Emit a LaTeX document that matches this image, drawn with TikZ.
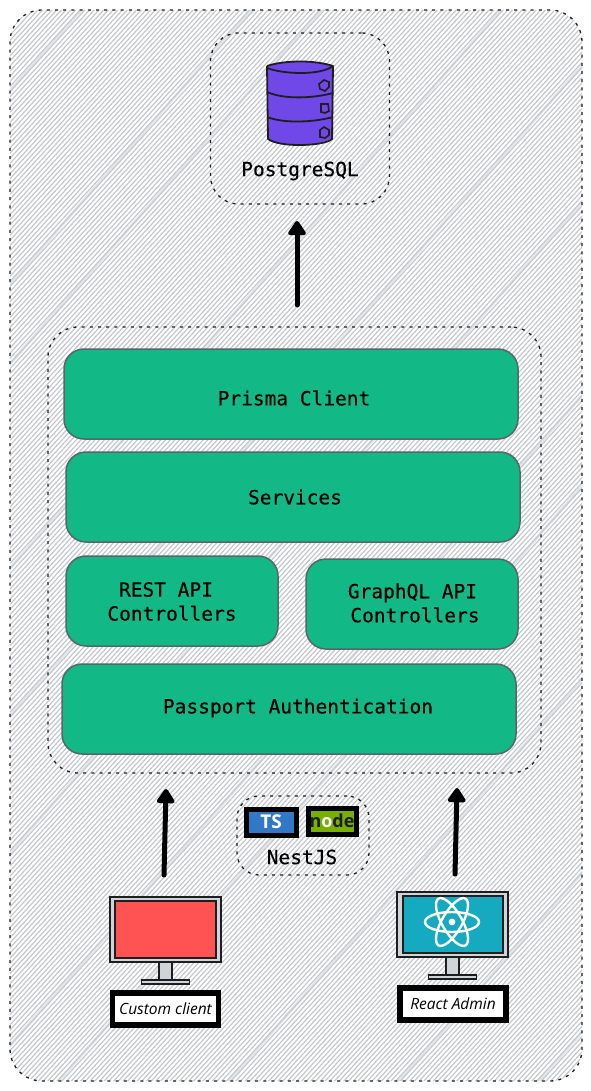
\documentclass[tikz,border=0pt]{standalone}
\usepackage{fontspec}
\setmainfont{Open Sans}
\newfontfamily\codefont[FakeBold=0.35]{DejaVu Sans Mono}
\newfontfamily\handfont{Open Sans}
\usetikzlibrary{arrows.meta,calc}
\definecolor{greenfill}{HTML}{12B886}
\definecolor{greenline}{HTML}{56666A}
\definecolor{hatch}{HTML}{C4C8CC}
\definecolor{hatchb}{HTML}{E4E6E9}
\definecolor{ink}{HTML}{1E1E1E}
\definecolor{dbfill}{HTML}{7048E8}
\definecolor{bezel}{HTML}{CED4DA}
\definecolor{redscreen}{HTML}{FF5252}
\definecolor{tealscreen}{HTML}{15AABF}
\definecolor{tsblue}{HTML}{3178C6}
\definecolor{nodegreen}{HTML}{76B000}
\tikzset{
  dotbox/.style={draw=ink,line width=1.3pt,dash pattern=on 3pt off 5.2pt,rounded corners=#1},
  greenbox/.style={draw=greenline,line width=1.5pt,fill=greenfill,rounded corners=20pt,inner sep=0pt},
  codetext/.style={font=\codefont\fontsize{19.5}{24}\selectfont,text=black,inner sep=0pt,align=center},
  bigarrow/.style={draw=black,line width=5pt,line cap=round,line join=round,-{Triangle[length=16pt,width=20pt,round]}},
  bezelbox/.style={draw=ink,line width=1.1pt,fill=bezel},
  screenbox/.style={draw=ink,line width=1.2pt},
  tagbox/.style={draw=black,line width=5.5pt,fill=white,font=\handfont\itshape\fontsize{15.5}{18}\selectfont,text=black,inner sep=0pt},
  logobox/.style={draw=black,line width=5pt,inner sep=0pt},
  atomring/.style={draw=white,line width=2.4pt},
  dbline/.style={draw=ink,line width=1.8pt,line join=round},
}
\begin{document}
\begin{tikzpicture}[x=1pt,y=-1pt]
\useasboundingbox (0,0) rectangle (590,1091);
\fill[white] (0,0) rectangle (590,1091);
% hatched background
\begin{scope}
  \clip[rounded corners=32pt] (10,10) rectangle (582,1081);
  \foreach \k in {90,260,330,510,640,760,930,1010,1180,1350,1490,1640}{
    \draw[hatchb,line width=3pt] (\k,0) -- (\k-960,1091);
  }
  \foreach \k in {0,4.7,...,1800}{
    \draw[hatch,line width=1.15pt] (\k,0) -- (\k-1000,1091);
  }
\end{scope}
\node[dotbox=32pt,minimum width=572pt,minimum height=1071pt,inner sep=0pt] (outer) at (296,545.5) {};
% PostgreSQL group
\node[dotbox=28pt,minimum width=179pt,minimum height=171pt,inner sep=0pt] (pggroup) at (300,118.5) {};
% database drum
\fill[dbfill] (267,66) .. controls (285,60) and (315,60) .. (333,66) -- (333,137)
  .. controls (325,146) and (280,148) .. (268,139) -- cycle;
\draw[dbline] (267,66) .. controls (285,60) and (315,60) .. (333,66) .. controls (320,76) and (282,74) .. (267,68);
\draw[dbline] (267,66) -- (268,139) .. controls (280,148) and (325,146) .. (332,139) -- (333,66);
\draw[dbline] (267,92) .. controls (285,100) and (315,98) .. (333,93);
\draw[dbline] (267,117) .. controls (285,124) and (315,122) .. (333,117);
\draw[ink,line width=1.6pt] (324,80) -- (329,82) -- (329,87) -- (325,91) -- (320,89) -- (319,84) -- cycle;
\draw[ink,line width=1.6pt] (321,104) -- (328,104) -- (329,111) -- (325,113) -- (321,112) -- cycle;
\draw[ink,line width=1.6pt] (324,127) -- (329,130) -- (329,135) -- (325,138) -- (320,137) -- (320,130) -- cycle;
\node[codetext] (pglabel) at (300,171) {PostgreSQL};
% backend group
\node[dotbox=30pt,minimum width=493pt,minimum height=446pt,inner sep=0pt] (backend) at (294.5,550) {};
\node[greenbox,minimum width=454pt,minimum height=90pt] (prismabox) at (291,394) {};
\node[codetext] (prismalabel) at (294,398) {Prisma Client};
\node[greenbox,minimum width=454pt,minimum height=90pt] (servicesbox) at (293,497) {};
\node[codetext] (serviceslabel) at (295,497) {Services};
\node[greenbox,minimum width=212pt,minimum height=90pt] (restbox) at (172,601) {};
\node[codetext] (restlabel) at (172,601.5) {REST API\hspace*{12pt}\\Controllers};
\node[greenbox,minimum width=212pt,minimum height=90pt] (graphbox) at (412,604) {};
\node[codetext] (graphlabel) at (415,603) {GraphQL API\hspace*{5pt}\\Controllers};
\node[greenbox,minimum width=454pt,minimum height=90pt] (passbox) at (289,709) {};
\node[codetext] (passlabel) at (298,708) {Passport Authentication};
% NestJS group
\node[dotbox=22pt,minimum width=132pt,minimum height=79pt,inner sep=0pt] (nestgroup) at (303,835.5) {};
\node[logobox,fill=tsblue,minimum width=50pt,minimum height=26pt,text=white,font=\bfseries\fontsize{19}{20}\selectfont] (tslogo) at (271,822) {TS};
\node[logobox,fill=nodegreen,minimum width=48pt,minimum height=26pt,text=ink,font=\bfseries\fontsize{18}{20}\selectfont] (nodelogo) at (332,821) {n\textcolor{white}{o}de};
\node[codetext] (nestlabel) at (302,857) {NestJS};
% clients
\node[bezelbox,minimum width=111pt,minimum height=65pt,inner sep=0pt] (leftmon) at (165.5,929.5) {};
\node[screenbox,fill=redscreen,minimum width=101pt,minimum height=57pt,inner sep=0pt] (leftscreen) at (165.5,929.5) {};
\node[bezelbox,minimum width=13pt,minimum height=18pt,inner sep=0pt] (leftstand) at (165.5,971) {};
\node[bezelbox,minimum width=48pt,minimum height=4pt,inner sep=0pt] (leftbase) at (165.5,982) {};
\node[tagbox,minimum width=106pt,minimum height=32pt] (lefttag) at (165.5,1009) {Custom client};
\node[bezelbox,minimum width=111pt,minimum height=65pt,inner sep=0pt] (rightmon) at (452.5,924.5) {};
\node[screenbox,fill=tealscreen,minimum width=100pt,minimum height=57pt,inner sep=0pt] (rightscreen) at (453,924.5) {};
\node[bezelbox,minimum width=13pt,minimum height=18pt,inner sep=0pt] (rightstand) at (452.5,966) {};
\node[bezelbox,minimum width=48pt,minimum height=4pt,inner sep=0pt] (rightbase) at (452.5,977) {};
\node[tagbox,minimum width=106pt,minimum height=32pt] (righttag) at (453,1004) {React Admin};
% atom
\coordinate (atom) at (452,922);
\draw[atomring] (atom) ellipse [x radius=27pt,y radius=10pt];
\draw[atomring,rotate around={60:(atom)}] (atom) ellipse [x radius=27pt,y radius=10pt];
\draw[atomring,rotate around={120:(atom)}] (atom) ellipse [x radius=27pt,y radius=10pt];
\fill[white] (atom) circle (3.4pt);
% connectors
\coordinate (upfrom) at (297,305);
\coordinate (upto) at (297,221);
\coordinate (leftfrom) at (164,875);
\coordinate (leftto) at (166,789);
\coordinate (rightfrom) at (455,874);
\coordinate (rightto) at (457,788);
\draw[bigarrow] (upfrom) -- (upto);
\draw[bigarrow] (leftfrom) -- (leftto);
\draw[bigarrow] (rightfrom) -- (rightto);
\end{tikzpicture}
\end{document}
